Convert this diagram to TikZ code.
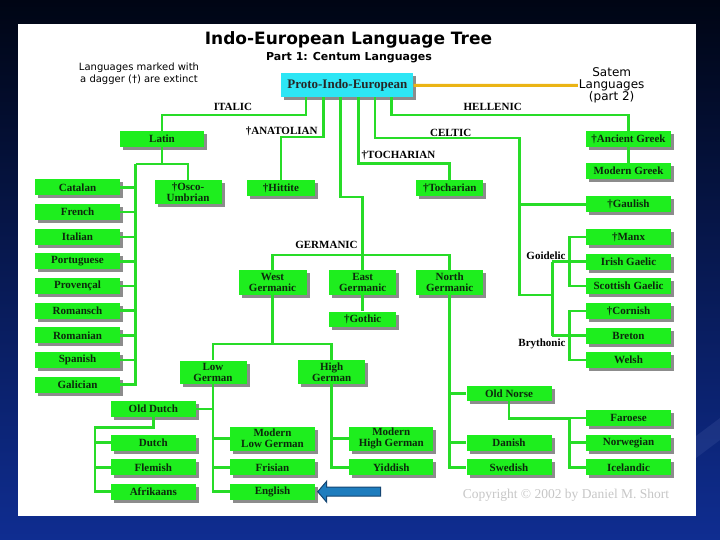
\documentclass[tikz,border=0pt]{standalone}
\usepackage{fontspec}
\setmainfont{Liberation Serif}
\newfontfamily\dvs{DejaVu Sans}
\usetikzlibrary{shadows}
\definecolor{boxg}{RGB}{30,238,30}
\definecolor{lineg}{RGB}{40,220,40}
\definecolor{boxt}{RGB}{12,40,12}
\definecolor{piec}{RGB}{45,230,245}
\definecolor{satc}{RGB}{235,180,20}
\definecolor{arrf}{RGB}{30,125,190}
\definecolor{arrd}{RGB}{20,70,115}
\definecolor{bgtop}{RGB}{0,5,20}
\definecolor{bgmid}{RGB}{6,25,85}
\definecolor{bgbot}{RGB}{15,45,145}
\begin{document}
\begin{tikzpicture}[x=1pt,y=-1pt,
  lbox/.style={rectangle, fill=boxg, text=boxt, inner sep=0pt, minimum height=16pt, minimum width=85pt, align=center, font=\bfseries\fontsize{11}{11}\selectfont, general shadow={fill=black!45, shadow xshift=3pt, shadow yshift=-3pt}},
  conn/.style={draw=lineg, line width=2.6pt},
  glabel/.style={font=\bfseries\fontsize{11}{11}\selectfont, inner sep=0pt},
]
\useasboundingbox (0,0) rectangle (720,540);
\shade[top color=bgtop, middle color=bgmid, bottom color=bgbot] (0,0) rectangle (720,540);
\fill[bgbot!70!white, opacity=0.2] (696,436) -- (720,418) -- (720,440) -- (696,458) -- cycle;
\fill[white] (18,24) rectangle (696,516);

% titles
\node[font=\dvs\bfseries\fontsize{17}{17}\selectfont] (title) at (348.5,40) {Indo-European Language Tree};
\node[font=\dvs\bfseries\fontsize{11}{11}\selectfont] (subtitle) at (349,57.7) {Part 1: Centum Languages};
\node[font=\dvs\fontsize{10}{11.5}\selectfont, align=center] (note) at (139,73.5) {Languages marked with\\a dagger (†) are extinct};
\node[font=\fontsize{13.5}{13.5}\selectfont, text=black!22] (copy) at (566,495) {Copyright © 2002 by Daniel M. Short};

% root
\node[lbox, fill=piec, minimum width=132pt, minimum height=24pt, font=\bfseries\fontsize{13}{13}\selectfont, text=black!85] (pie) at (347.4,85.3) {Proto-Indo-European};
\node[font=\dvs\fontsize{12}{11.3}\selectfont, align=center, inner sep=1pt] (satem) at (611.7,85.5) {Satem\\Languages\\(part 2)};

% italic
\node[lbox, minimum width=84pt] (latin) at (162,139) {Latin};
\foreach \n/\t/\y in {catalan/Catalan/187.5, french/French/212.15, italian/Italian/236.8, portuguese/Portuguese/261.45, provencal/Provençal/286.1, romansch/Romansch/310.75, romanian/Romanian/335.4, spanish/Spanish/360.05, galician/Galician/384.7}
  \node[lbox] (\n) at (77.5,\y) {\t};
\node[lbox, minimum width=67pt, minimum height=24pt] (osco) at (188,192) {†Osco-\\Umbrian};

% anatolian, tocharian
\node[lbox, minimum width=68pt] (hittite) at (281,188) {†Hittite};
\node[lbox, minimum width=67pt] (tochar) at (449.7,188) {†Tocharian};

% germanic
\node[lbox, minimum width=68pt, minimum height=25pt] (westg) at (272.5,282.5) {West\\Germanic};
\node[lbox, minimum width=67pt, minimum height=25pt] (eastg) at (362.7,282.5) {East\\Germanic};
\node[lbox, minimum width=67pt, minimum height=25pt] (northg) at (449.7,282.5) {North\\Germanic};
\node[lbox, minimum width=67pt, minimum height=15pt] (gothic) at (362.7,319) {†Gothic};
\node[lbox, minimum width=67pt, minimum height=23pt] (lowg) at (213,372) {Low\\German};
\node[lbox, minimum width=67pt, minimum height=24pt] (highg) at (331.7,372) {High\\German};
\node[lbox] (olddutch) at (153.3,409) {Old Dutch};
\node[lbox] (dutch) at (153.3,442.5) {Dutch};
\node[lbox] (flemish) at (153.3,467.3) {Flemish};
\node[lbox] (afrikaans) at (153.3,491.7) {Afrikaans};
\node[lbox, minimum height=24pt] (mlowg) at (272.5,438.5) {Modern\\Low German};
\node[lbox] (frisian) at (272.5,467.3) {Frisian};
\node[lbox] (english) at (272.5,491.7) {English};
\node[lbox, minimum width=84pt, minimum height=24pt] (mhighg) at (391.3,438.5) {Modern\\High German};
\node[lbox, minimum width=84pt] (yiddish) at (391.3,467.3) {Yiddish};
\node[lbox, minimum height=15pt] (oldnorse) at (509,393.3) {Old Norse};
\node[lbox] (danish) at (509,442.5) {Danish};
\node[lbox] (swedish) at (509,467.3) {Swedish};
\node[lbox] (faroese) at (628.5,418) {Faroese};
\node[lbox] (norwegian) at (628.5,442.5) {Norwegian};
\node[lbox] (icelandic) at (628.5,467.3) {Icelandic};

% hellenic, celtic
\foreach \n/\t/\y in {agreek/†Ancient Greek/139, mgreek/Modern Greek/171, gaulish/†Gaulish/204.5, manx/†Manx/237, irish/Irish Gaelic/261.5, scottish/Scottish Gaelic/286, cornish/†Cornish/311, breton/Breton/335.5, welsh/Welsh/360}
  \node[lbox] (\n) at (628.5,\y) {\t};

% branch labels
\node[glabel] (litalic) at (233,107) {ITALIC};
\node[glabel] (lanat) at (281.7,131) {†ANATOLIAN};
\node[glabel] (ltoch) at (398.5,155) {†TOCHARIAN};
\node[glabel] (lcelt) at (450.7,132.7) {CELTIC};
\node[glabel] (lhell) at (492.7,107) {HELLENIC};
\node[glabel] (lgerm) at (326.5,245.3) {GERMANIC};
\node[glabel] (lgoi) at (546,256) {Goidelic};
\node[glabel] (lbry) at (542,344) {Brythonic};

% junction coordinates
\coordinate (it) at (306,115);
\coordinate (an) at (323.3,137);
\coordinate (ge) at (340.7,197);
\coordinate (gm) at (362.7,255);
\coordinate (to) at (358.3,163.6);
\coordinate (ce) at (375,138);
\coordinate (cv) at (519.3,295);
\coordinate (bj) at (552.3,295);
\coordinate (gv) at (569.3,262);
\coordinate (he) at (391.7,115);
\coordinate (rv) at (135.7,164);
\coordinate (wg) at (272.5,344);
\coordinate (od) at (95,427.3);
\coordinate (on) at (569.3,418.3);

% satem
\draw[satc, line width=3pt] (pie.east) -- (satem.west);

% italic
\draw[conn] (pie.south -| it) |- (latin.north |- it) -- (latin.north);
\draw[conn] (latin.south) -- (latin.south |- rv);
\draw[conn] (rv) -- (osco.north |- rv) -- (osco.north);
\draw[conn] (rv) -- (rv |- galician.east) -- (galician.east);
\foreach \n in {catalan,french,italian,portuguese,provencal,romansch,romanian,spanish}
  \draw[conn] (\n.east) -- (\n.east -| rv);

% anatolian, tocharian
\draw[conn] (pie.south -| an) |- (hittite.north |- an) -- (hittite.north);
\draw[conn] (pie.south -| to) |- (tochar.north |- to) -- (tochar.north);

% germanic
\draw[conn] (pie.south -| ge) -- (ge) -| (gm);
\draw[conn] (westg.north) |- (gm) -| (northg.north);
\draw[conn] (gm) -- (eastg.north);
\draw[conn] (eastg.south) -- (gothic.north);
\draw[conn] (westg.south) -- (wg);
\draw[conn] (lowg.north) |- (wg) -| (highg.north);
\draw[conn] (lowg.south) -- (lowg.south |- english.west) -- (english.west);
\foreach \n in {mlowg,frisian}
  \draw[conn] (\n.west) -- (\n.west -| lowg.south);
\draw[conn] (olddutch.east) -- (olddutch.east -| lowg.south);
\draw[conn] (olddutch.south) |- (od) -- (od |- afrikaans.west) -- (afrikaans.west);
\foreach \n in {dutch,flemish}
  \draw[conn] (\n.west) -- (\n.west -| od);
\draw[conn] (highg.south) -- (highg.south |- yiddish.west) -- (yiddish.west);
\draw[conn] (mhighg.west) -- (mhighg.west -| highg.south);
\draw[conn] (northg.south) -- (northg.south |- swedish.west) -- (swedish.west);
\foreach \n in {oldnorse,danish}
  \draw[conn] (\n.west) -- (\n.west -| northg.south);
\draw[conn] (oldnorse.south) |- (on) -- (on |- icelandic.west) -- (icelandic.west);
\foreach \n in {faroese,norwegian}
  \draw[conn] (\n.west) -- (\n.west -| on);

% celtic
\draw[conn] (pie.south -| ce) |- (cv |- ce) -- (cv) -- (bj);
\draw[conn] (gaulish.west) -- (gaulish.west -| cv);
\draw[conn] (irish.west -| bj) -- (breton.west -| bj);
\draw[conn] (manx.west) -- (manx.west -| gv) -- (scottish.west -| gv) -- (scottish.west);
\draw[conn] (irish.west) -- (irish.west -| bj);
\draw[conn] (cornish.west) -- (cornish.west -| gv) -- (welsh.west -| gv) -- (welsh.west);
\draw[conn] (breton.west) -- (breton.west -| bj);

% hellenic
\draw[conn] (pie.south -| he) |- (agreek.north |- he) -- (agreek.north);
\draw[conn] (agreek.south) -- (mgreek.north);

% arrow
\draw[fill=arrf, draw=arrd, line width=1pt, line join=miter] ([xshift=2.5pt]english.east) -- ++(9,-10.5) -- ++(0,6) -- ++(54,0) -- ++(0,9) -- ++(-54,0) -- ++(0,6) -- cycle;
\end{tikzpicture}
\end{document}
